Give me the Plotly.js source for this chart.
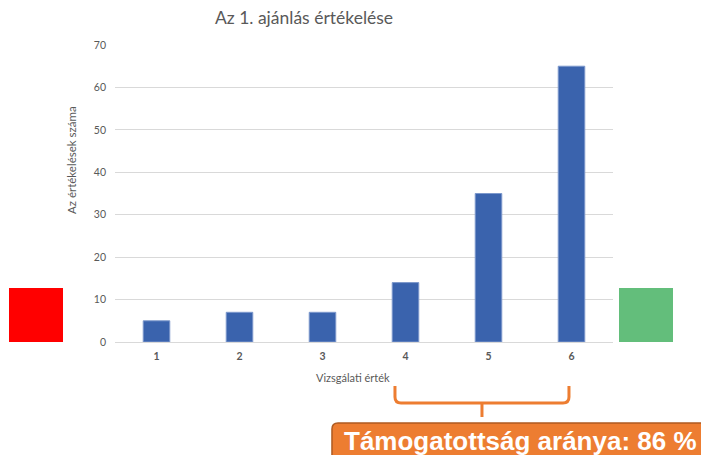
<!DOCTYPE html>
<html>
<head>
<meta charset="utf-8">
<script src="https://cdn.plot.ly/plotly-3.0.1.min.js"></script>
<style>html,body{margin:0;padding:0;background:#fff;}#chart{width:701px;height:455px;}</style>
</head>
<body>
<div id="chart"></div>
<script>
const categories = ['1', '2', '3', '4', '5', '6'];
const counts = [5, 7, 7, 14, 35, 65];
const yTicks = [0, 10, 20, 30, 40, 50, 60, 70];
const chartTitle = 'Az 1. ajánlás értékelése';
const xTitle = 'Vizsgálati érték';
const yTitle = 'Az értékelések száma';
const supportText = 'Támogatottság aránya: 86 %';

// plot area in pixels
const L = 115, R = 613, T = 45, B = 342;
function px(x) { return (x - L) / (R - L); }
function py(y) { return (B - y) / (B - T); }
function P(x, y) { return px(x).toFixed(4) + ',' + py(y).toFixed(4); }

const font = 'Lato, "Open Sans", sans-serif';

const trace = {
  type: 'bar',
  x: categories,
  y: counts,
  marker: { color: '#3A63AD', line: { color: '#7C98CC', width: 1 } },
  hoverinfo: 'x+y'
};

const bracePath = 'M' + P(395, 386) + ' L' + P(395, 397) + ' Q' + P(395, 403) + ' ' + P(401, 403) +
  ' L' + P(563, 403) + ' Q' + P(569, 403) + ' ' + P(569, 397) + ' L' + P(569, 386) +
  ' M' + P(482, 403) + ' L' + P(482, 417);

const boxPath = 'M' + P(332, 470) + ' L' + P(332, 429) + ' Q' + P(332, 423) + ' ' + P(338, 423) +
  ' L' + P(720, 423) + ' L' + P(720, 470) + ' Z';

const layout = {
  width: 701, height: 455,
  margin: { l: L, r: 701 - R, t: T, b: 455 - B, pad: 0 },
  paper_bgcolor: '#ffffff', plot_bgcolor: '#ffffff',
  showlegend: false,
  bargap: 0.68,
  title: {
    text: chartTitle,
    font: { family: font, size: 17.5, color: '#595959' },
    x: px(304), xref: 'paper', xanchor: 'center',
    y: 1 - 18 / 455, yref: 'container', yanchor: 'middle'
  },
  xaxis: {
    type: 'category',
    showgrid: false, zeroline: false,
    showline: false,
    ticks: '',
    tickfont: { family: font, size: 10.5, color: '#595959', weight: 'bold' },
    ticklabelstandoff: 6
  },
  yaxis: {
    range: [0, 70],
    tickvals: yTicks,
    ticktext: yTicks.map(String),
    showgrid: true, gridcolor: '#D9D9D9', gridwidth: 1,
    zeroline: true, zerolinecolor: '#D9D9D9', zerolinewidth: 1,
    showline: false, ticks: '',
    tickfont: { family: font, size: 10.5, color: '#595959' },
    ticklabelstandoff: 8
  },
  shapes: [
    { type: 'rect', xref: 'paper', yref: 'paper', x0: px(9), x1: px(63), y0: py(342), y1: py(288),
      fillcolor: '#FF0000', line: { width: 0 }, layer: 'above' },
    { type: 'rect', xref: 'paper', yref: 'paper', x0: px(619), x1: px(673), y0: py(342), y1: py(288),
      fillcolor: '#63BE7B', line: { width: 0 }, layer: 'above' },
    { type: 'path', xref: 'paper', yref: 'paper', path: bracePath,
      line: { color: '#ED7D31', width: 3 } },
    { type: 'path', xref: 'paper', yref: 'paper', path: boxPath,
      fillcolor: '#ED7D31', line: { color: '#AE5A21', width: 1.5 } }
  ],
  annotations: [
    { text: xTitle, xref: 'paper', yref: 'paper', x: px(353), y: py(377),
      xanchor: 'center', yanchor: 'middle', showarrow: false,
      font: { family: font, size: 11, color: '#595959' } },
    { text: yTitle, xref: 'paper', yref: 'paper', x: px(71), y: py(160),
      xanchor: 'center', yanchor: 'middle', textangle: -90, showarrow: false,
      font: { family: font, size: 11.5, color: '#595959' } },
    { text: supportText, xref: 'paper', yref: 'paper', x: px(342), y: py(441),
      xanchor: 'left', yanchor: 'middle', showarrow: false,
      font: { family: '"Liberation Sans", Arial, sans-serif', size: 26, color: '#ffffff', weight: 'bold' } }
  ]
};

Plotly.newPlot('chart', [trace], layout, { displayModeBar: false, staticPlot: true });
</script>
</body>
</html>
